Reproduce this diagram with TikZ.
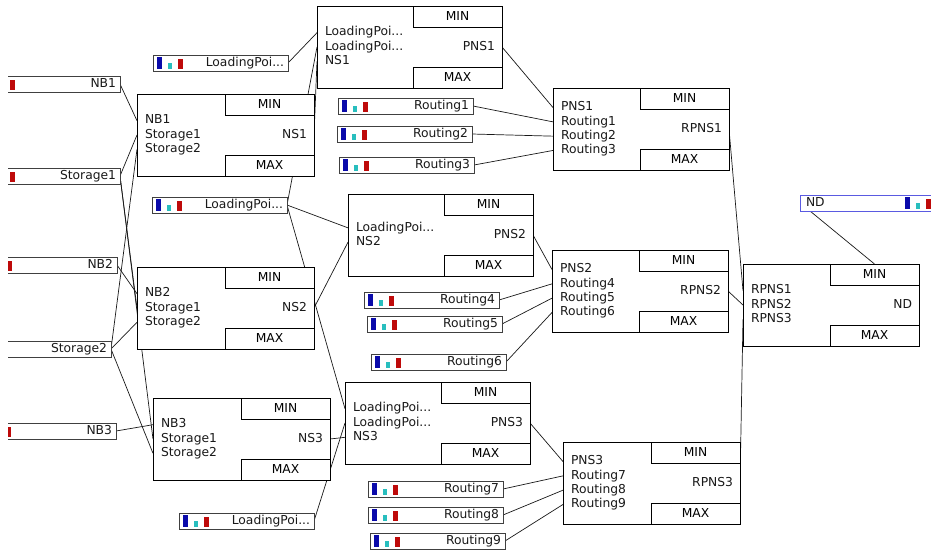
\documentclass[tikz,border=0pt]{standalone}
\usepackage{fontspec}
\setmainfont{DejaVu Sans}
\usetikzlibrary{backgrounds,calc}
\definecolor{barblue}{RGB}{10,10,170}
\definecolor{barcyan}{RGB}{40,190,190}
\definecolor{barred}{RGB}{190,10,10}
\definecolor{ndblue}{RGB}{90,90,225}
\newcommand\fnt{\fontsize{12.3}{14}\selectfont}
\newcommand\lp{LoadingPoi...}
\tikzset{
 bx/.style={draw=black, line width=0.9pt, fill=white, rectangle, minimum height=82pt, inner sep=0pt, outer sep=0pt},
 cell/.style={draw=black, line width=0.9pt, rectangle, minimum width=89pt, minimum height=21pt, inner sep=0pt, outer sep=0pt, font=\fnt},
 lbl/.style={inner sep=0pt, outer sep=0pt, font=\fnt, text height=9pt, text depth=2.5pt, text=black!90},
 src/.style={draw=black!75, line width=1pt, fill=white, rectangle, minimum width=135pt, minimum height=16pt, inner sep=0pt, outer sep=0pt},
 wire/.style={draw=black!90, line width=0.7pt},
}
\newcommand\bigbox[7]{%
  \node[bx, minimum width=#4pt, anchor=north west] (#1) at (#2,#3) {};
  \node[cell, anchor=north east] (#1min) at (#1.north east) {MIN};
  \node[cell, anchor=south east] (#1max) at (#1.south east) {MAX};
  \foreach \t [count=\i] in {#6} {
    \pgfmathsetmacro\dy{((#5+1)/2-\i)*14.3}
    \node[lbl, anchor=west] (#1-\i) at ([xshift=8pt, yshift=\dy pt]#1.west) {\t};
  }
  \node[lbl, anchor=east] (#1out) at ([xshift=-7pt]#1.east) {#7};
}
\newcommand\srcbox[4]{%
  \node[src, anchor=north west] (#1) at (#2,#3) {};
  \fill[barblue] ([xshift=4pt,yshift=-2pt]#1.north west) rectangle ([xshift=9pt,yshift=2pt]#1.south west);
  \fill[barcyan] ([xshift=15pt,yshift=-8pt]#1.north west) rectangle ([xshift=19pt,yshift=2pt]#1.south west);
  \fill[barred] ([xshift=25pt,yshift=-4pt]#1.north west) rectangle ([xshift=30pt,yshift=2pt]#1.south west);
  \node[lbl, anchor=east] (#1t) at ([xshift=-4pt]#1.east) {#4};
}
\begin{document}
\begin{tikzpicture}[x=1pt,y=-1pt]
\useasboundingbox (0,0) rectangle (931,555);
\begin{scope}
\clip (8,0) rectangle (931,555);
% source boxes on the left (cut off)
\srcbox{sNB1}{-15}{76}{NB1}
\srcbox{sSt1}{-15}{168}{Storage1}
\srcbox{sNB2}{-18}{257}{NB2}
\srcbox{sSt2}{-24}{341}{Storage2}
\srcbox{sNB3}{-19}{423}{NB3}
% loading points
\srcbox{lp1}{153}{55}{LoadingPoi...}
\srcbox{lp2}{152}{197}{LoadingPoi...}
\srcbox{lp3}{179}{513}{LoadingPoi...}
% routings
\srcbox{r1}{338}{98}{Routing1}
\srcbox{r2}{337}{126}{Routing2}
\srcbox{r3}{339}{157}{Routing3}
\srcbox{r4}{364}{292}{Routing4}
\srcbox{r5}{367}{316}{Routing5}
\srcbox{r6}{371}{354}{Routing6}
\srcbox{r7}{368}{481}{Routing7}
\srcbox{r8}{368}{507}{Routing8}
\srcbox{r9}{370}{533}{Routing9}
% ND input (mirrored, blue)
\node[src, draw=ndblue, anchor=north west] (ndin) at (800,195) {};
\fill[barblue] ([xshift=-30pt,yshift=-2pt]ndin.north east) rectangle ([xshift=-25pt,yshift=2pt]ndin.south east);
\fill[barcyan] ([xshift=-19pt,yshift=-8pt]ndin.north east) rectangle ([xshift=-15pt,yshift=2pt]ndin.south east);
\fill[barred] ([xshift=-9pt,yshift=-4pt]ndin.north east) rectangle ([xshift=-4pt,yshift=2pt]ndin.south east);
\node[lbl, anchor=west] (ndint) at ([xshift=6pt]ndin.west) {ND};
% big boxes
\bigbox{nb1}{137}{94}{177}{3}{NB1,Storage1,Storage2}{NS1}
\bigbox{nb2}{137}{267}{177}{3}{NB2,Storage1,Storage2}{NS2}
\bigbox{nb3}{153}{398}{177}{3}{NB3,Storage1,Storage2}{NS3}
\bigbox{pns1}{317}{6}{185}{3}{\lp,\lp,NS1}{PNS1}
\bigbox{pns2}{348}{194}{185}{2}{\lp,NS2}{PNS2}
\bigbox{pns3}{345}{382}{185}{3}{\lp,\lp,NS3}{PNS3}
\bigbox{rpns1}{553}{88}{176}{4}{PNS1,Routing1,Routing2,Routing3}{RPNS1}
\bigbox{rpns2}{552}{250}{176}{4}{PNS2,Routing4,Routing5,Routing6}{RPNS2}
\bigbox{rpns3}{563}{442}{177}{4}{PNS3,Routing7,Routing8,Routing9}{RPNS3}
\bigbox{nd}{743}{264}{176}{3}{RPNS1,RPNS2,RPNS3}{ND}
\end{scope}
\begin{pgfonlayer}{background}
\fill[white] (0,0) rectangle (931,555);
% inputs to NB boxes
\draw[wire] (sNB1.east) -- (nb1.west |- nb1-1);
\draw[wire] (sSt1.east) -- (nb1.west |- nb1-2);
\draw[wire] (sSt1.east) -- (nb2.west |- nb2-2);
\draw[wire] (sSt1.east) -- (nb3.west |- nb3-2);
\draw[wire] (sSt2.east) -- (nb1.west |- nb1-3);
\draw[wire] (sSt2.east) -- (nb2.west |- nb2-3);
\draw[wire] (sSt2.east) -- (nb3.west |- nb3-3);
\draw[wire] (sNB2.east) -- (nb2.west |- nb2-1);
\draw[wire] (sNB3.east) -- (nb3.west |- nb3-1);
% loading points
\draw[wire] (lp1.east) -- (pns1.west |- pns1-1);
\draw[wire] (lp2.east) -- (pns1.west |- pns1-2);
\draw[wire] (lp2.east) -- (pns2.west |- pns2-1);
\draw[wire] (lp2.east) -- (pns3.west |- pns3-1);
\draw[wire] (lp3.east) -- (pns3.west |- pns3-2);
% NS outputs
\draw[wire] (nb1.east) -- (pns1.west |- pns1-3);
\draw[wire] (nb2.east) -- (pns2.west |- pns2-2);
\draw[wire] (nb3.east) -- (pns3.west |- pns3-3);
% PNS outputs and routings
\draw[wire] (pns1.east) -- (rpns1.west |- rpns1-1);
\draw[wire] (r1.east) -- (rpns1.west |- rpns1-2);
\draw[wire] (r2.east) -- (rpns1.west |- rpns1-3);
\draw[wire] (r3.east) -- (rpns1.west |- rpns1-4);
\draw[wire] (pns2.east) -- (rpns2.west |- rpns2-1);
\draw[wire] (r4.east) -- (rpns2.west |- rpns2-2);
\draw[wire] (r5.east) -- (rpns2.west |- rpns2-3);
\draw[wire] (r6.east) -- (rpns2.west |- rpns2-4);
\draw[wire] (pns3.east) -- (rpns3.west |- rpns3-1);
\draw[wire] (r7.east) -- (rpns3.west |- rpns3-2);
\draw[wire] (r8.east) -- (rpns3.west |- rpns3-3);
\draw[wire] (r9.east) -- (rpns3.west |- rpns3-4);
% RPNS outputs to ND
\draw[wire] (rpns1.east) -- (nd.west |- nd-1);
\draw[wire] (rpns2.east) -- (nd.west |- nd-2);
\draw[wire] (rpns3.east) -- (nd.west |- nd-3);
\draw[wire] ([xshift=10pt]ndin.south west) -- (ndmin.north);
\end{pgfonlayer}
\end{tikzpicture}
\end{document}
